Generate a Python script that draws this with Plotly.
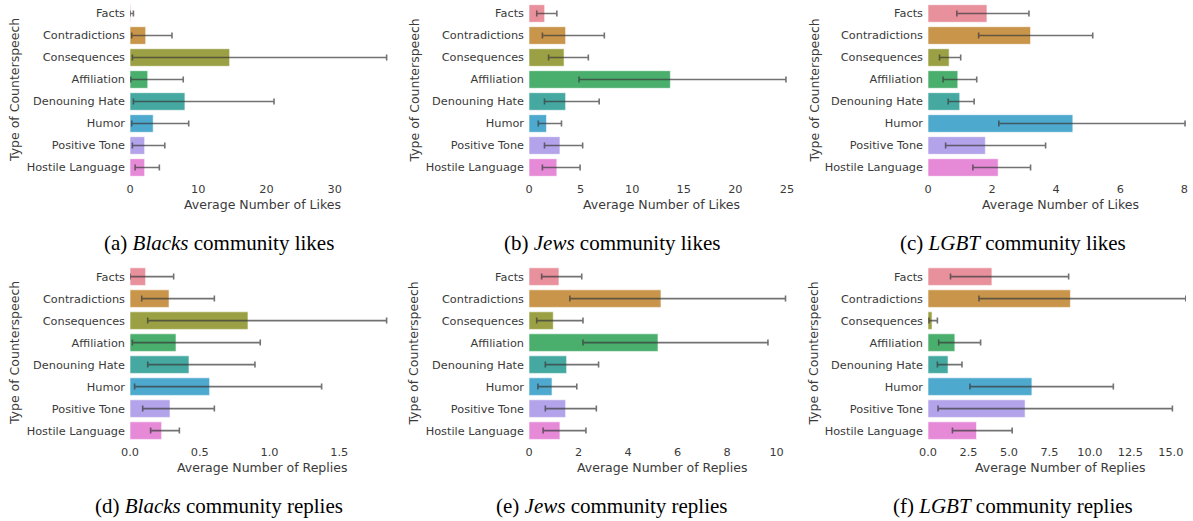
import plotly.graph_objects as go

categories = ["Facts", "Contradictions", "Consequences", "Affiliation",
              "Denouning Hate", "Humor", "Positive Tone", "Hostile Language"]

# (a) Blacks likes
blacks_likes = [0.1, 2.3, 14.6, 2.6, 8.05, 3.4, 2.15, 2.15]
blacks_likes_lo = [0.0, 0.25, 0.35, 0.1, 0.5, 0.25, 0.35, 0.75]
blacks_likes_hi = [0.5, 6.15, 37.6, 7.8, 21.1, 8.6, 5.1, 4.3]
# (b) Jews likes
jews_likes = [1.52, 3.55, 3.4, 13.7, 3.55, 1.7, 3.0, 2.7]
jews_likes_lo = [0.75, 1.3, 1.9, 4.85, 1.5, 0.9, 1.5, 1.3]
jews_likes_hi = [2.7, 7.3, 5.75, 24.9, 6.8, 3.15, 5.2, 4.95]
# (c) LGBT likes
lgbt_likes = [1.84, 3.2, 0.66, 0.93, 0.99, 4.52, 1.79, 2.19]
lgbt_likes_lo = [0.9, 1.58, 0.36, 0.47, 0.63, 2.21, 0.55, 1.40]
lgbt_likes_hi = [3.15, 5.14, 1.02, 1.52, 1.44, 8.02, 3.67, 3.2]
# (d) Blacks replies
blacks_replies = [0.112, 0.28, 0.846, 0.33, 0.423, 0.571, 0.287, 0.227]
blacks_replies_lo = [0.0, 0.084, 0.127, 0.017, 0.127, 0.033, 0.091, 0.148]
blacks_replies_hi = [0.313, 0.605, 1.84, 0.934, 0.896, 1.374, 0.605, 0.354]
# (e) Jews replies
jews_replies = [1.21, 5.33, 0.98, 5.21, 1.52, 0.93, 1.48, 1.25]
jews_replies_lo = [0.51, 1.65, 0.31, 2.18, 0.66, 0.36, 0.66, 0.57]
jews_replies_hi = [2.13, 10.36, 2.18, 9.65, 2.81, 1.93, 2.72, 2.3]
# (f) LGBT replies
lgbt_replies = [3.95, 8.8, 0.25, 1.66, 1.24, 6.42, 6.0, 3.0]
lgbt_replies_lo = [1.39, 3.15, 0.06, 0.66, 0.58, 2.59, 0.62, 1.51]
lgbt_replies_hi = [8.69, 15.93, 0.58, 3.25, 2.1, 11.45, 15.1, 5.2]

x_ticks_a = [0, 10, 20, 30]
x_ticks_b = [0, 5, 10, 15, 20, 25]
x_ticks_c = [0, 2, 4, 6, 8]
x_ticks_d = [0.0, 0.5, 1.0, 1.5]
x_ticks_e = [0, 2, 4, 6, 8, 10]
x_ticks_f = [0.0, 2.5, 5.0, 7.5, 10.0, 12.5, 15.0]

captions = ["(a) <i>Blacks</i> community likes", "(b) <i>Jews</i> community likes",
            "(c) <i>LGBT</i> community likes", "(d) <i>Blacks</i> community replies",
            "(e) <i>Jews</i> community replies", "(f) <i>LGBT</i> community replies"]

colors = ["#e8919d", "#c9954b", "#9aa043", "#4aae6d", "#45a9a1", "#4da9cd", "#b3a3ea", "#e68ad8"]

W, H = 1193, 521
panels = [
    (blacks_likes, blacks_likes_lo, blacks_likes_hi, x_ticks_a, "0", 37.8, "Average Number of Likes"),
    (jews_likes, jews_likes_lo, jews_likes_hi, x_ticks_b, "0", 25.1, "Average Number of Likes"),
    (lgbt_likes, lgbt_likes_lo, lgbt_likes_hi, x_ticks_c, "0", 8.05, "Average Number of Likes"),
    (blacks_replies, blacks_replies_lo, blacks_replies_hi, x_ticks_d, ".1f", 1.85, "Average Number of Replies"),
    (jews_replies, jews_replies_lo, jews_replies_hi, x_ticks_e, "0", 10.46, "Average Number of Replies"),
    (lgbt_replies, lgbt_replies_lo, lgbt_replies_hi, x_ticks_f, ".1f", 15.94, "Average Number of Replies"),
]

x_px = [(130, 388), (529, 788), (928, 1186)]
y_px = [(2.5, 178.5), (265.6, 441.6)]
cap_x = [219, 612, 1013]
cap_y = [243, 506]


def px(v):
    return min(max(v / W, 0), 1)


def py(v):
    return min(max(1 - v / H, 0), 1)


fig = go.Figure()
layout = dict(width=W, height=H, margin=dict(l=0, r=0, t=0, b=0, autoexpand=False),
              paper_bgcolor="white", plot_bgcolor="white", showlegend=False,
              bargap=0.2)
annotations = []
tickfont = dict(family="DejaVu Sans", size=11.3, color="#3a3a3a")
titlefont = dict(family="DejaVu Sans", size=12.5, color="#3a3a3a")
ncat = len(categories)
for i, (vals, lo, hi, ticks, fmt, xmax, xtitle) in enumerate(panels):
    row, col = divmod(i, 3)
    n = i + 1
    xa = "x" if n == 1 else f"x{n}"
    ya = "y" if n == 1 else f"y{n}"
    plus = [h - v for h, v in zip(hi, vals)]
    minus = [v - l for v, l in zip(vals, lo)]
    fig.add_trace(go.Bar(
        x=vals, y=categories, orientation="h", xaxis=xa, yaxis=ya,
        marker=dict(color=colors, line=dict(color="rgba(255,255,255,0.6)", width=1)),
        width=0.8,
        error_x=dict(type="data", array=plus, arrayminus=minus, symmetric=False,
                     color="rgba(60,60,60,0.72)", thickness=1.6, width=3),
    ))
    x0, x1 = x_px[col]
    y0, y1 = y_px[row]
    xd = [px(x0), px(x1)]
    yd = [py(y1), py(y0)]
    tt = [f"{t:.1f}" if fmt == ".1f" else f"{t:g}" for t in ticks]
    layout["xaxis" if n == 1 else f"xaxis{n}"] = dict(
        domain=xd, anchor=ya, range=[0, xmax], tickvals=ticks, ticktext=tt,
        showgrid=True, gridcolor="rgba(255,255,255,0.55)", gridwidth=1,
        layer="above traces", zeroline=False, showline=False, ticks="",
        tickfont=tickfont, ticklabelstandoff=2, fixedrange=True, automargin=False,
        ticklabeloverflow="allow")
    layout["yaxis" if n == 1 else f"yaxis{n}"] = dict(
        domain=yd, anchor=xa, range=[ncat - 0.5, -0.5], showgrid=False,
        zeroline=False, showline=False, ticks="", tickfont=tickfont,
        ticklabelstandoff=4, fixedrange=True, automargin=False)
    # x-axis title
    annotations.append(dict(text=xtitle, x=px((x0 + x1) / 2 + 3), y=py(y1 + 26),
                            xref="paper", yref="paper", showarrow=False,
                            xanchor="center", yanchor="middle", font=titlefont))
    # y-axis title
    ytx = [14.5, 414, 814][col]
    annotations.append(dict(text="Type of Counterspeech", x=px(ytx), y=py((y0 + y1) / 2),
                            xref="paper", yref="paper", showarrow=False, textangle=-90,
                            xanchor="center", yanchor="middle", font=titlefont))
    # caption
    annotations.append(dict(text=captions[i], x=px(cap_x[col]), y=py(cap_y[row]),
                            xref="paper", yref="paper", showarrow=False,
                            xanchor="center", yanchor="middle",
                            font=dict(family="Liberation Serif", size=21, color="black")))

layout["annotations"] = annotations
fig.update_layout(**layout)
fig.write_html("out.html",
               config={"displayModeBar": False, "staticPlot": True},
               post_script="document.body.style.margin='0';document.body.style.overflow='hidden';")
